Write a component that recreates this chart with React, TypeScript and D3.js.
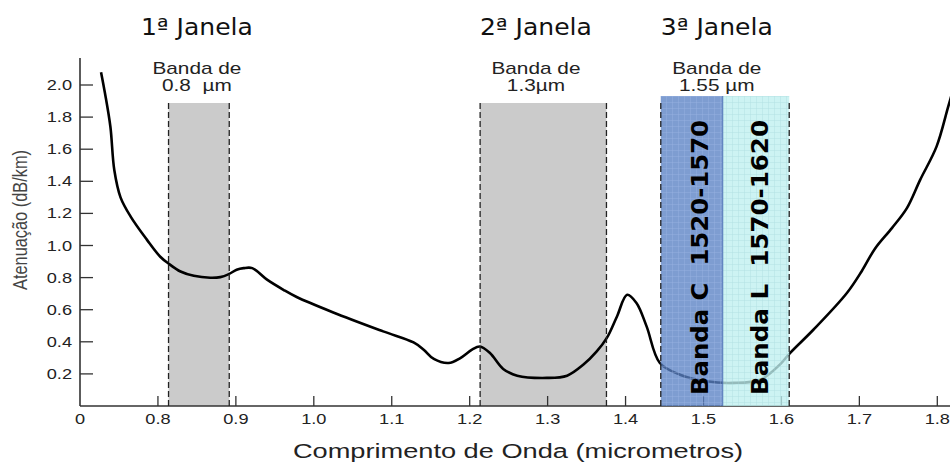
import React, { useRef, useEffect } from "react";
import { select, scaleLinear, line, curveCatmullRom } from "d3";

// attenuation curve of silica fibre
const wavelengths = [
  0.727, 0.732, 0.739, 0.744, 0.752, 0.765, 0.786, 0.803, 0.814, 0.829, 0.846, 0.867, 0.88, 0.891,
  0.901, 0.91, 0.921, 0.94, 0.961, 0.978, 1.025, 1.089, 1.128, 1.141, 1.154, 1.173, 1.188, 1.203, 1.213,
  1.226, 1.243, 1.261, 1.299, 1.325, 1.346, 1.363, 1.376, 1.389, 1.402, 1.414, 1.427, 1.444, 1.47, 1.504,
  1.538, 1.573, 1.598, 1.611, 1.641, 1.684, 1.703, 1.72, 1.742, 1.761, 1.778, 1.799, 1.814, 1.822,
];
const attenuation = [
  2.08, 1.95, 1.74, 1.47, 1.3, 1.18, 1.035, 0.93, 0.886, 0.838, 0.811, 0.799, 0.803, 0.822, 0.849,
  0.859, 0.859, 0.787, 0.724, 0.679, 0.583, 0.465, 0.396, 0.351, 0.293, 0.268, 0.299, 0.351, 0.371, 0.33,
  0.231, 0.189, 0.175, 0.189, 0.258, 0.34, 0.424, 0.558, 0.693, 0.642, 0.496, 0.268, 0.195, 0.154, 0.144,
  0.164, 0.258, 0.33, 0.475, 0.704, 0.84, 0.98, 1.11, 1.233, 1.409, 1.616, 1.865, 2.0,
];

const xTickValues = [0.7, 0.8, 0.9, 1.0, 1.1, 1.2, 1.3, 1.4, 1.5, 1.6, 1.7, 1.8];
const xTickLabels = ["0", "0.8", "0.9", "1.0", "1.1", "1.2", "1.3", "1.4", "1.5", "1.6", "1.7", "1.8"];
const yTickValues = [0.2, 0.4, 0.6, 0.8, 1.0, 1.2, 1.4, 1.6, 1.8, 2.0];

// windows
const windowNames = ["1ª Janela", "2ª Janela", "3ª Janela"];
const windowCenters = [0.85, 1.285, 1.517];
const bandStarts = [0.8136, 1.2134, 1.4452];
const bandEnds = [0.8915, 1.3755, 1.61];
const bandNames = ["0.8  µm", "1.3µm", "1.55 µm"];

// C and L sub bands of the 3rd window
const subBandNames = ["Banda C  1520-1570", "Banda L  1570-1620"];
const subBandStarts = [1.4452, 1.5247];
const subBandEnds = [1.5247, 1.61];

export default function App() {
  const svgRef = useRef<SVGSVGElement>(null);
  const width = 950;
  const height = 462;

  useEffect(() => {
    const svg = select(svgRef.current);
    svg.selectAll("*").remove();

    const xScale = scaleLinear().domain([0.7, 1.8]).range([80, 937.3]);
    const yScale = scaleLinear().domain([0, 2]).range([406, 85]);
    const baseY = yScale(0);
    const textFont = "'Liberation Sans', Arial, sans-serif";

    const defs = svg.append("defs");
    const gridColors = ["#a4bde8", "#9fd6d8"];
    gridColors.forEach((c, i) => {
      const p = defs
        .append("pattern")
        .attr("id", `grid${i}`)
        .attr("width", 6)
        .attr("height", 6)
        .attr("patternUnits", "userSpaceOnUse");
      p.append("path").attr("d", "M6 0 L0 0 L0 6").attr("fill", "none").attr("stroke", c).attr("stroke-width", 0.8);
    });

    // gray bands (1st and 2nd window)
    svg
      .selectAll(".band")
      .data(bandStarts.slice(0, 2))
      .join("rect")
      .attr("class", "band")
      .attr("x", (d) => xScale(d))
      .attr("y", 103)
      .attr("width", (d, i) => xScale(bandEnds[i]) - xScale(d))
      .attr("height", baseY - 103)
      .attr("fill", "#cbcbcb");

    // axes
    svg.append("line").attr("x1", 80).attr("x2", width).attr("y1", baseY).attr("y2", baseY)
      .attr("stroke", "#333").attr("stroke-width", 1.6);
    svg.append("line").attr("x1", 80).attr("x2", 80).attr("y1", 58).attr("y2", baseY)
      .attr("stroke", "#333").attr("stroke-width", 1.6);

    svg.selectAll(".xtick").data(xTickValues.slice(1)).join("line")
      .attr("class", "xtick")
      .attr("x1", (d) => xScale(d)).attr("x2", (d) => xScale(d))
      .attr("y1", baseY).attr("y2", baseY - 10)
      .attr("stroke", "#333").attr("stroke-width", 1.3);

    svg.selectAll(".xlabel").data(xTickValues).join("text")
      .attr("class", "xlabel")
      .attr("transform", (d) => `translate(${xScale(d)},424) scale(1.3,1)`)
      .attr("text-anchor", "middle")
      .attr("font-family", textFont).attr("font-size", 14).attr("fill", "#222")
      .text((d, i) => xTickLabels[i]);

    svg.selectAll(".ytick").data(yTickValues).join("line")
      .attr("class", "ytick")
      .attr("x1", 80).attr("x2", 93)
      .attr("y1", (d) => yScale(d)).attr("y2", (d) => yScale(d))
      .attr("stroke", "#333").attr("stroke-width", 1.3);

    svg.selectAll(".ylabel").data(yTickValues).join("text")
      .attr("class", "ylabel")
      .attr("transform", (d) => `translate(72,${yScale(d) + 5}) scale(1.3,1)`)
      .attr("text-anchor", "end")
      .attr("font-family", textFont).attr("font-size", 14).attr("fill", "#222")
      .text((d) => d.toFixed(1));

    // axis titles
    svg.append("text")
      .attr("transform", "translate(518,458) scale(1.36,1)")
      .attr("text-anchor", "middle")
      .attr("font-family", textFont).attr("font-size", 20).attr("fill", "#222")
      .text("Comprimento de Onda (micrometros)");

    svg.append("text")
      .attr("transform", "translate(27,220) scale(1.3,1) rotate(-90)")
      .attr("text-anchor", "middle")
      .attr("font-family", textFont).attr("font-size", 15).attr("fill", "#444")
      .attr("textLength", 140).attr("lengthAdjust", "spacingAndGlyphs")
      .text("Atenuação (dB/km)");

    // attenuation curve
    const points: [number, number][] = wavelengths.map((w, i) => [w, attenuation[i]]);
    const curve = line<[number, number]>()
      .x((d) => xScale(d[0]))
      .y((d) => yScale(d[1]))
      .curve(curveCatmullRom.alpha(0.5));
    svg.append("path")
      .attr("d", curve(points))
      .attr("fill", "none")
      .attr("stroke", "#000")
      .attr("stroke-width", 2.6)
      .attr("stroke-linejoin", "round");

    // C and L bands, over the curve
    const subColors = ["#5a82c4", "#bff0f0"];
    subBandStarts.forEach((s, i) => {
      const x0 = xScale(s);
      const w = xScale(subBandEnds[i]) - x0;
      svg.append("rect").attr("x", x0).attr("y", 96).attr("width", w).attr("height", baseY - 96)
        .attr("fill", subColors[i]).attr("fill-opacity", 0.78);
      svg.append("rect").attr("x", x0).attr("y", 96).attr("width", w).attr("height", baseY - 96)
        .attr("fill", `url(#grid${i})`).attr("opacity", 0.7);
    });
    svg.append("line")
      .attr("x1", xScale(subBandEnds[0])).attr("x2", xScale(subBandEnds[0]))
      .attr("y1", 96).attr("y2", baseY)
      .attr("stroke", "#4f74b8").attr("stroke-width", 1);

    // dashed band edges
    const edges = bandStarts.flatMap((s, i) => [s, bandEnds[i]]);
    svg.selectAll(".edge").data(edges).join("line")
      .attr("class", "edge")
      .attr("x1", (d) => xScale(d)).attr("x2", (d) => xScale(d))
      .attr("y1", 103).attr("y2", baseY)
      .attr("stroke", "#222").attr("stroke-width", 1.3)
      .attr("stroke-dasharray", "6,3");

    // C / L labels
    const subLabelX = [708, 768];
    subBandNames.forEach((n, i) => {
      svg.append("text")
        .attr("transform", `translate(${subLabelX[i]},395) rotate(-90)`)
        .attr("text-anchor", "start")
        .attr("font-family", "'DejaVu Sans', Verdana, sans-serif")
        .attr("font-weight", "bold").attr("font-size", 23).attr("fill", "#000")
        .attr("textLength", 275).attr("lengthAdjust", "spacingAndGlyphs")
        .style("white-space", "pre")
        .text(n);
    });

    // window titles and band captions
    windowNames.forEach((n, i) => {
      const cx = xScale(windowCenters[i]);
      svg.append("text")
        .attr("x", cx - 56).attr("y", 35)
        .attr("font-family", "'DejaVu Sans', Verdana, sans-serif")
        .attr("font-size", 23).attr("fill", "#111")
        .attr("textLength", 112).attr("lengthAdjust", "spacingAndGlyphs")
        .text(n);
      svg.append("text")
        .attr("transform", `translate(${cx},74) scale(1.3,1)`)
        .attr("text-anchor", "middle")
        .attr("font-family", textFont).attr("font-size", 16).attr("fill", "#222")
        .text("Banda de");
      svg.append("text")
        .attr("transform", `translate(${cx},91) scale(1.3,1)`)
        .attr("text-anchor", "middle")
        .attr("font-family", textFont).attr("font-size", 16).attr("fill", "#222")
        .style("white-space", "pre")
        .text(bandNames[i]);
    });
  }, []);

  return (
    <svg
      ref={svgRef}
      width={width}
      height={height}
      style={{ position: "absolute", left: 0, top: 0, background: "#fff" }}
    ></svg>
  );
}
